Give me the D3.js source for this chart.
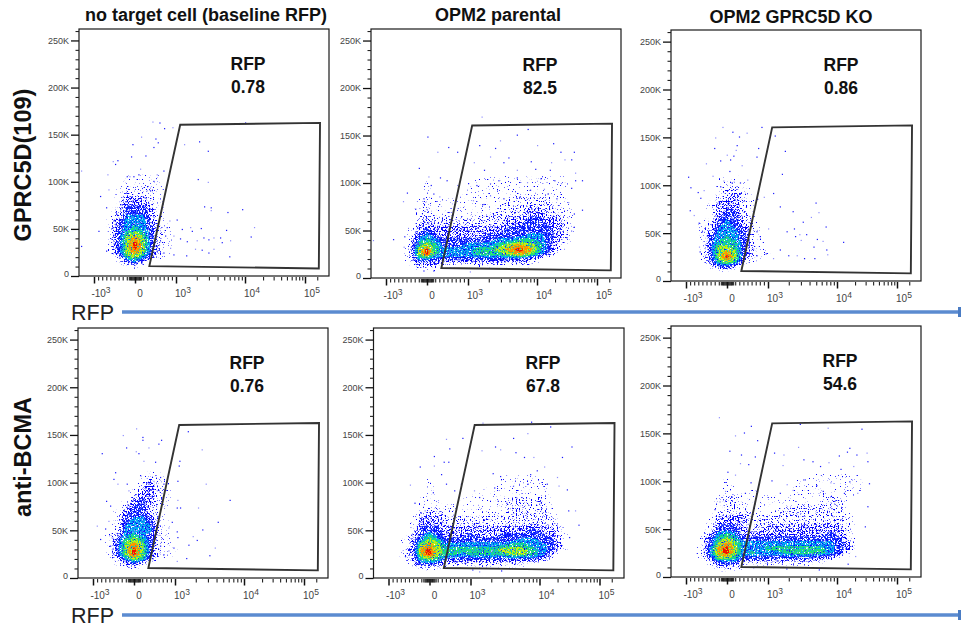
<!DOCTYPE html>
<html>
<head>
<meta charset="utf-8">
<style>
  html, body { margin: 0; padding: 0; background: #fff; overflow: hidden; }
  text { font-family: "Liberation Sans", Arial, sans-serif; }
</style>
</head>
<body>
<div id="chart"></div>
<script src="https://cdn.jsdelivr.net/npm/d3@7"></script>
<script>
var width = 961
var height = 629

var yMajor = [0, 50000, 100000, 150000, 200000, 250000]
var yMinor = [10000, 20000, 30000, 40000, 60000, 70000, 80000, 90000, 110000, 120000, 130000, 140000, 160000, 170000, 180000, 190000, 210000, 220000, 230000, 240000, 260000]
var xMajor = [-1000, 0, 1000, 10000, 100000]
var xMinor = [-900, -800, -700, -600, -500, -400, -300, -200, -150, -120, -100, -80, -60, -40, -20, 20, 40, 60, 80, 100, 120, 150, 200, 300, 400, 500, 600, 700, 800, 900,
  2000, 3000, 4000, 5000, 6000, 7000, 8000, 9000, 20000, 30000, 40000, 50000, 60000, 70000, 80000, 90000, 160000]

// gate corners, RFP / marker intensity
var gateRfp = [350, 1150, 178000, 170000]
var gateMarker = [10500, 160500, 162500, 8000]

var columnTitles = ['no target cell (baseline RFP)', 'OPM2 parental', 'OPM2 GPRC5D KO']
var rowTitles = ['GPRC5D(109)', 'anti-BCMA']
var gateNames = ['RFP', 'RFP', 'RFP', 'RFP', 'RFP', 'RFP']
var gatePercents = ['0.78', '82.5', '0.86', '0.76', '67.8', '54.6']

// density levels: 0 empty, a few events, 1-3 blue .. 8 red
// one string per densityMarker row, one character per densityRfp column
var densityRfp = [-1000, -800, -600, -400, -200, 0, 200, 400, 600, 800, 1000, 1400, 2000, 2800, 4000, 5600, 8000, 11000, 16000, 22000, 32000, 45000, 64000, 100000]
var densityMarker = [5000, 10000, 15000, 20000, 25000, 30000, 35000, 40000, 45000, 50000, 60000, 70000, 80000, 90000, 100000, 115000]
var levelCuts = [0.25, 0.75, 1.5, 2.5, 3.5, 4.5, 5.5, 6.5, 7.5]
var levelColors = ['#0000ff', '#0000ff', '#0000ff', '#0a28ff', '#00b0f0', '#20e070', '#c8f010', '#ff9000', '#f01000']
var levelNoise = [0.66, 0.6, 0.53, 0.46, 0.44, 0.44, 0.44, 0.42, 0.42]

var densityA = ['', '00000a', '000a241', '00015642a', '00a367631a', '00a368631a', '00a368631a', '00a367631a', '00a356531a', '00a345431a', '00a24442a', '00013332a', '000a2221a', '000a1111a', '0000aaaaa', '']
var densityB = ['', '0000aaa', '000a2221111111111', '00014433333333332a', '0001685444455567642', '00016854444556787531', '00015653334445676531', '000a45433333344554321', '000a34322222333344321', '000a23222222223333321', '000012111111112233221', '0000a1aaaaaaa111221aa', '0000a1aaaaaaaa11111aa', '00000a0000aaaaaaaaaa', '00000a00000aaaaaaaaaa', '']
var densityC = ['', '00000a', '000a331', '00a25652a', '00a368631a', '00a367631aa', '00a366531a', '00a355531a', '00a345431a', '00a244431a', '00a134321', '000a2331a', '000a2221a', '0000a121a', '0000a11a', '']
var densityD = ['', '00000a', '000a231', '00014652a', '00a368631aa', '00a368631aa', '00a367631a', '00a356531a', '00a245431a', '00a144441a', '000a34431a', '000a2331a', '0000a2321a', '00000a221a', '000000a21a', '']
var densityE = ['', '0000aaa', '0001333111111111', '00a256533333333332', '0012786554555566542', '00127865555556665431', '00a26764444444554431', '00a24653333333344331', '00013532223223333321', '000a3332222222223221', '000a222111111111111', '0000a11aaaaaaa1111a', '0000aaa0aaaaaa1111a', '00000a00000aaaaaaa', '00000a0000000aaaaa', '']
var densityF = ['', '0000121a', '000133311111111a', '00a36653333333322', '0014786454445555431', '0014786444555555432', '00a3676444444444432', '00a3565333333333331', '00a2454222222222321', '000a333211222222221', '000a222211111111111', '0000a111aaaa111111', '0000a11aaaaaaaaa11', '00000aa0a0000aaaaaaa', '00000a0000000aaaaaaa', '']

var points = [
  // no target, GPRC5D
  [[423, 164], [594, 163], [707, 157], [911, 158], [10000, 163], [496, 146], [146, 148], [-65, 140], [553, 142], [1306, 140], [2154, 143], [2880, 133], [-1317, 112], [-1317, 32], [-431, 123], [-545, 122], [-98, 127], [252, 128], [122, 114], [447, 137], [2060, 103], [2880, 100], [2546, 74], [3177, 73], [3177, 70], [5546, 68], [9060, 71], [14100, 52], [5300, 49], [12400, 42], [6060, 38], [5900, 21], [2280, 51], [1600, 52], [1690, 48], [1210, 50], [837, 59], [1020, 60], [772, 52], [935, 43], [1140, 40], [1430, 37], [1990, 38], [2490, 41], [2940, 39], [3480, 41], [4340, 41], [4590, 36], [3480, 29], [2940, 25], [2350, 28], [1880, 29], [1400, 22], [935, 23], [854, 30], [691, 25], [528, 27], [610, 37], [732, 43], [-854, 85], [-650, 92], [-894, 48], [-707, 73], [-675, 108], [-488, 119], [-203, 106], [-138, 106], [-41, 106], [81, 108], [285, 91], [366, 91], [447, 101], [528, 108], [691, 112], [-325, 76], [-447, 66], [-528, 59], [-707, 27]],
  // parental, GPRC5D
  [[1570, 170], [7300, 157], [5090, 151], [2900, 145], [8, 149], [18500, 142], [10000, 140], [1450, 140], [516, 138], [250, 133], [733, 133], [2460, 137], [2080, 128], [3840, 127], [8100, 123], [17100, 122], [24500, 133], [41000, 133], [28600, 125], [37000, 125], [-202, 116], [1210, 122], [1700, 114], [3250, 122], [5090, 114], [9400, 115], [16300, 114], [43000, 111], [56000, 103], [43000, 103], [32, 107], [314, 106], [476, 103], [733, 98], [1000, 100], [1320, 98], [2080, 100], [2750, 103], [5090, 106], [7150, 101], [11400, 105], [19400, 103], [25000, 100], [37000, 95], [-492, 90], [-588, 81], [89, 98], [153, 89], [298, 86], [-290, 73], [-89, 84], [1175, 82], [1670, 78], [3250, 84], [2080, 87], [5640, 86], [7900, 93], [13000, 94], [15000, 89], [21000, 84], [33000, 80], [56000, 72], [41000, 68], [-1320, 40], [-830, 41], [-556, 44], [-572, 33], [-395, 33], [-234, 36], [1060, 7], [153, 8], [-89, 8], [37000, 50], [41000, 54], [31000, 43]],
  // GPRC5D KO, GPRC5D
  [[-113, 161], [129, 156], [290, 151], [476, 155], [838, 161], [1250, 152], [-290, 150], [-314, 139], [234, 142], [210, 137], [758, 139], [1750, 136], [-8, 132], [153, 131], [717, 130], [-516, 123], [-169, 126], [73, 127], [355, 121], [56, 115], [1585, 112], [-355, 110], [-951, 109], [-895, 98], [492, 106], [314, 103], [113, 103], [-89, 105], [-169, 99], [-717, 93], [-572, 95], [-653, 87], [-911, 74], [-814, 69], [-693, 61], [-613, 52], [-685, 36], [-669, 31], [1183, 92], [895, 88], [733, 86], [4875, 82], [5370, 72], [1480, 78], [2270, 73], [4170, 67], [3180, 62], [6820, 57], [1000, 55], [1855, 52], [2370, 55], [2840, 49], [3560, 49], [5090, 44], [6160, 42], [12600, 41], [2460, 47], [2970, 43], [4550, 36], [6970, 33], [7200, 28], [4680, 24], [3320, 24], [2600, 27], [1960, 27], [1480, 33], [1180, 24], [943, 29], [717, 27], [637, 34], [798, 47], [717, 52]],
  // no target, anti-BCMA
  [[49, 157], [203, 148], [203, 145], [-276, 150], [658, 145], [593, 141], [350, 137], [-195, 137], [-789, 131], [41, 133], [106, 131], [1530, 154], [2430, 135], [1155, 123], [1130, 118], [2780, 99], [1080, 102], [6170, 82], [1080, 82], [1057, 74], [1180, 74], [2150, 74], [4150, 59], [2480, 51], [1800, 44], [2060, 40], [1560, 35], [3760, 32], [3140, 24], [1450, 21], [1057, 18], [1057, 49], [919, 59], [837, 53], [1080, 43], [960, 32], [837, 29], [715, 25], [634, 34], [553, 46], [-463, 111], [-504, 104], [-406, 99], [-683, 81], [-585, 76], [-910, 55], [-829, 41], [-707, 52], [-626, 60], [-585, 34], [-179, 99], [-138, 92], [24, 88], [146, 108], [228, 123], [512, 122], [350, 99], [472, 102], [634, 106], [715, 99], [553, 92], [431, 85], [309, 81], [268, 94]],
  // parental, anti-BCMA
  [[1487, 163], [7530, 164], [15000, 159], [6650, 152], [4130, 147], [800, 147], [400, 146], [480, 136], [2260, 138], [2680, 135], [4470, 132], [34000, 138], [1440, 134], [104, 128], [5940, 127], [8130, 127], [23600, 127], [-240, 117], [104, 118], [344, 122], [456, 122], [11900, 117], [9100, 113], [7300, 109], [19500, 106], [2090, 110], [2680, 107], [-480, 98], [280, 109], [400, 99], [760, 99], [600, 92], [2200, 95], [4130, 97], [6700, 99], [13200, 99], [20700, 97], [28500, 93], [80, 90], [1120, 92], [1330, 85], [-368, 79], [-120, 71], [2480, 81], [3300, 79], [5500, 85], [10500, 79], [30000, 71], [39000, 71], [44500, 56], [31000, 43], [-440, 46], [-480, 29], [-600, 23], [-240, 15], [1060, 9], [2770, 8], [1330, 7]],
  // GPRC5D KO, anti-BCMA
  [[-200, 167], [580, 158], [411, 151], [193, 148], [733, 143], [2880, 160], [7300, 156], [25500, 155], [56, 132], [2720, 136], [339, 128], [1220, 130], [1670, 128], [16000, 135], [21000, 128], [31000, 130], [14600, 131], [10700, 127], [314, 119], [516, 118], [677, 126], [1620, 117], [3250, 123], [4400, 121], [7500, 120], [5660, 116], [11400, 113], [18600, 116], [32000, 121], [8, 110], [193, 107], [572, 99], [1120, 101], [1860, 97], [3250, 102], [5000, 96], [8000, 99], [16000, 100], [34000, 98], [-48, 90], [113, 84], [435, 88], [-185, 79], [717, 90], [1480, 88], [2270, 91], [6200, 90], [13000, 88], [21700, 88], [32000, 74], [-306, 71], [-516, 42], [-395, 37], [-234, 51], [-395, 28], [-330, 19], [29000, 53], [20000, 22], [15000, 14], [1840, 9], [637, 10], [5430, 8]]
]

var densities = [densityA, densityB, densityC, densityD, densityE, densityF]

// plot frames in the page
var frames = [
  { left: 79, top: 29, right: 329, bottom: 276, labelY: 64, labelX: 248 },
  { left: 371, top: 29, right: 621, bottom: 278, labelY: 65, labelX: 540 },
  { left: 671, top: 30, right: 921, bottom: 281, labelY: 65, labelX: 841 },
  { left: 78, top: 328, right: 328, bottom: 578, labelY: 363, labelX: 247 },
  { left: 373.5, top: 328, right: 624, bottom: 578, labelY: 363, labelX: 543 },
  { left: 671, top: 326, right: 921, bottom: 577, labelY: 361, labelX: 840 }
]
// pixel offsets of -10^3, 0, 10^3, 10^4, 10^5 from the frame's left edge
var xTickOffsets = [15, 56, 97, 166, 226]

var svg = d3.select('#chart')
  .append('svg')
  .attr('width', width)
  .attr('height', height)
  .attr('viewBox', `0 0 ${width} ${height}`)
  .style('display', 'block')

var defs = svg.append('defs')

// grain so that the density bands look like single events, not flat fills
levelNoise.forEach(function(cut, i) {
  var f = defs.append('filter')
    .attr('id', 'grain' + i)
    .attr('x', '-5%').attr('y', '-5%').attr('width', '110%').attr('height', '110%')
    .attr('color-interpolation-filters', 'sRGB')
  f.append('feTurbulence')
    .attr('type', 'fractalNoise')
    .attr('baseFrequency', 0.73)
    .attr('numOctaves', 1)
    .attr('seed', i + 3)
    .attr('result', 'n')
  f.append('feColorMatrix')
    .attr('in', 'n')
    .attr('type', 'matrix')
    .attr('values', `0 0 0 0 0 0 0 0 0 0 0 0 0 0 0 0 0 0 14 ${-14 * cut}`)
    .attr('result', 'm')
  f.append('feComposite')
    .attr('in', 'SourceGraphic')
    .attr('in2', 'm')
    .attr('operator', 'in')
})

var soft = defs.append('filter')
  .attr('id', 'soft')
  .attr('filterUnits', 'userSpaceOnUse')
  .attr('x', 0).attr('y', 0).attr('width', width).attr('height', height)
soft.append('feGaussianBlur').attr('stdDeviation', 0.35)

function biex(v) {
  return v <= 1000 ? v / 1000 : Math.log10(v) - 2
}

frames.forEach(function(frame, p) {
  var g = svg.append('g').attr('class', 'panel')

  var xInner = d3.scaleLinear()
    .domain(xMajor.map(biex))
    .range(xTickOffsets.map(d => frame.left + d))
  var xScale = function(v) { return xInner(biex(v)) }

  var yScale = d3.scaleLinear()
    .domain([0, 262144])
    .range([frame.bottom, frame.top])

  // density bands
  var nx = densityRfp.length
  var ny = densityMarker.length
  var values = []
  densities[p].forEach(function(r) {
    r.padEnd(nx, '0').split('').forEach(d => values.push(d == 'a' ? 0.5 : +d))
  })

  var colX = d3.scaleLinear().domain(d3.range(nx)).range(densityRfp.map(xScale))
  var rowY = d3.scaleLinear().domain(d3.range(ny)).range(densityMarker.map(yScale))
  var path = d3.geoPath(d3.geoTransform({
    point: function(x, y) {
      this.stream.point(colX(x - 0.5), rowY(y - 0.5))
    }
  }))

  var contours = d3.contours()
    .size([nx, ny])
    .thresholds(levelCuts)(values)

  var bands = g.append('g').attr('filter', 'url(#soft)')

  bands.selectAll('path')
    .data(contours)
    .join('path')
    .attr('d', path)
    .attr('fill', (d, i) => levelColors[i])
    .attr('filter', (d, i) => `url(#grain${i})`)

  bands.selectAll('rect')
    .data(points[p])
    .join('rect')
    .attr('x', d => xScale(d[0]))
    .attr('y', d => yScale(d[1] * 1000))
    .attr('width', 1.2)
    .attr('height', 1.2)
    .attr('fill', (d, i) => i % 3 == 0 ? '#8f8fff' : '#1a1aff')

  // frame
  g.append('rect')
    .attr('x', frame.left)
    .attr('y', frame.top)
    .attr('width', frame.right - frame.left)
    .attr('height', frame.bottom - frame.top)
    .attr('fill', 'none')
    .attr('stroke', '#1a1a1a')
    .attr('stroke-width', 1.2)

  // gate
  g.append('path')
    .attr('d', d3.line()(gateRfp.map((d, i) => [xScale(d), yScale(gateMarker[i])])) + 'Z')
    .attr('fill', 'none')
    .attr('stroke', '#333')
    .attr('stroke-width', 1.9)

  // y axis
  var yAxisMinor = d3.axisLeft(yScale).tickValues(yMinor).tickSize(3.5).tickFormat('')
  var yAxisMajor = d3.axisLeft(yScale)
    .tickValues(yMajor)
    .tickSize(8)
    .tickPadding(2)
    .tickFormat(d => d == 0 ? '0' : (d / 1000) + 'K')

  g.append('g')
    .attr('transform', `translate(${frame.left},0)`)
    .call(yAxisMinor)
    .call(a => a.select('.domain').remove())
    .call(a => a.selectAll('line').attr('stroke', '#222').attr('stroke-width', 1.1))

  g.append('g')
    .attr('transform', `translate(${frame.left},0)`)
    .call(yAxisMajor)
    .call(a => a.select('.domain').remove())
    .call(a => a.selectAll('line').attr('stroke', '#111').attr('stroke-width', 1.3))
    .selectAll('text')
    .attr('fill', '#444')
    .style('font-size', '9px')
    .attr('dy', d => d == 0 ? '0' : '0.32em')

  // x axis
  var xAxisMinor = d3.axisBottom(xInner)
    .tickValues(xMinor.map(biex))
    .tickSize(3.5)
    .tickFormat('')
  var xAxisMajor = d3.axisBottom(xInner)
    .tickValues(xMajor.map(biex))
    .tickSize(6.5)
    .tickFormat('')

  g.append('g')
    .attr('transform', `translate(0,${frame.bottom + 1})`)
    .call(xAxisMinor)
    .call(a => a.select('.domain').remove())
    .call(a => a.selectAll('line').attr('stroke', '#222').attr('stroke-width', 1.1))

  g.append('g')
    .attr('transform', `translate(0,${frame.bottom + 1})`)
    .call(xAxisMajor)
    .call(a => a.select('.domain').remove())
    .call(a => a.selectAll('line').attr('stroke', '#111').attr('stroke-width', 1.5))

  xMajor.forEach(function(v) {
    var label = g.append('text')
      .attr('x', xScale(v) + (v == 0 ? 5 : 7))
      .attr('y', frame.bottom + 21)
      .attr('text-anchor', 'middle')
      .attr('fill', '#444')
      .style('font-size', '10px')
    if (v == 0) {
      label.text('0')
    } else {
      var exp = Math.round(Math.log10(Math.abs(v)))
      label.append('tspan').text(v < 0 ? '-10' : '10')
      label.append('tspan').attr('dy', -4).style('font-size', '8.5px').text(exp)
    }
  })

  // gate label
  g.append('text')
    .attr('x', frame.labelX)
    .attr('y', frame.labelY + 6)
    .attr('text-anchor', 'middle')
    .attr('font-weight', 'bold')
    .attr('fill', '#111')
    .style('font-size', '17.5px')
    .text(gateNames[p])
  g.append('text')
    .attr('x', frame.labelX)
    .attr('y', frame.labelY + 29)
    .attr('text-anchor', 'middle')
    .attr('font-weight', 'bold')
    .attr('fill', '#111')
    .style('font-size', '17.5px')
    .text(gatePercents[p])
})

// column titles
var titleX = [206, 498, 791]
var titleY = [21, 21, 23]
svg.selectAll('.col-title')
  .data(columnTitles)
  .join('text')
  .attr('class', 'col-title')
  .attr('x', (d, i) => titleX[i])
  .attr('y', (d, i) => titleY[i])
  .attr('text-anchor', 'middle')
  .attr('font-weight', 'bold')
  .attr('fill', '#111')
  .style('font-size', '18px')
  .text(d => d)

// row titles
var rowTitleY = [165, 457]
svg.selectAll('.row-title')
  .data(rowTitles)
  .join('text')
  .attr('class', 'row-title')
  .attr('transform', (d, i) => `translate(31,${rowTitleY[i]}) rotate(-90)`)
  .attr('text-anchor', 'middle')
  .attr('font-weight', 'bold')
  .attr('fill', '#111')
  .style('font-size', '23.5px')
  .text(d => d)

// RFP direction arrows
var arrowY = [312, 615]
arrowY.forEach(function(y) {
  svg.append('text')
    .attr('x', 71)
    .attr('y', y + 7.5)
    .attr('fill', '#222')
    .style('font-size', '21.5px')
    .text('RFP')
  svg.append('line')
    .attr('x1', 122).attr('x2', 961)
    .attr('y1', y).attr('y2', y)
    .attr('stroke', '#5b8bd0')
    .attr('stroke-width', 3.5)
  svg.append('path')
    .attr('d', `M958,${y - 5}L961,${y - 5}L961,${y + 5}L958,${y + 5}Z`)
    .attr('fill', '#4a7cc4')
})
</script>
</body>
</html>
